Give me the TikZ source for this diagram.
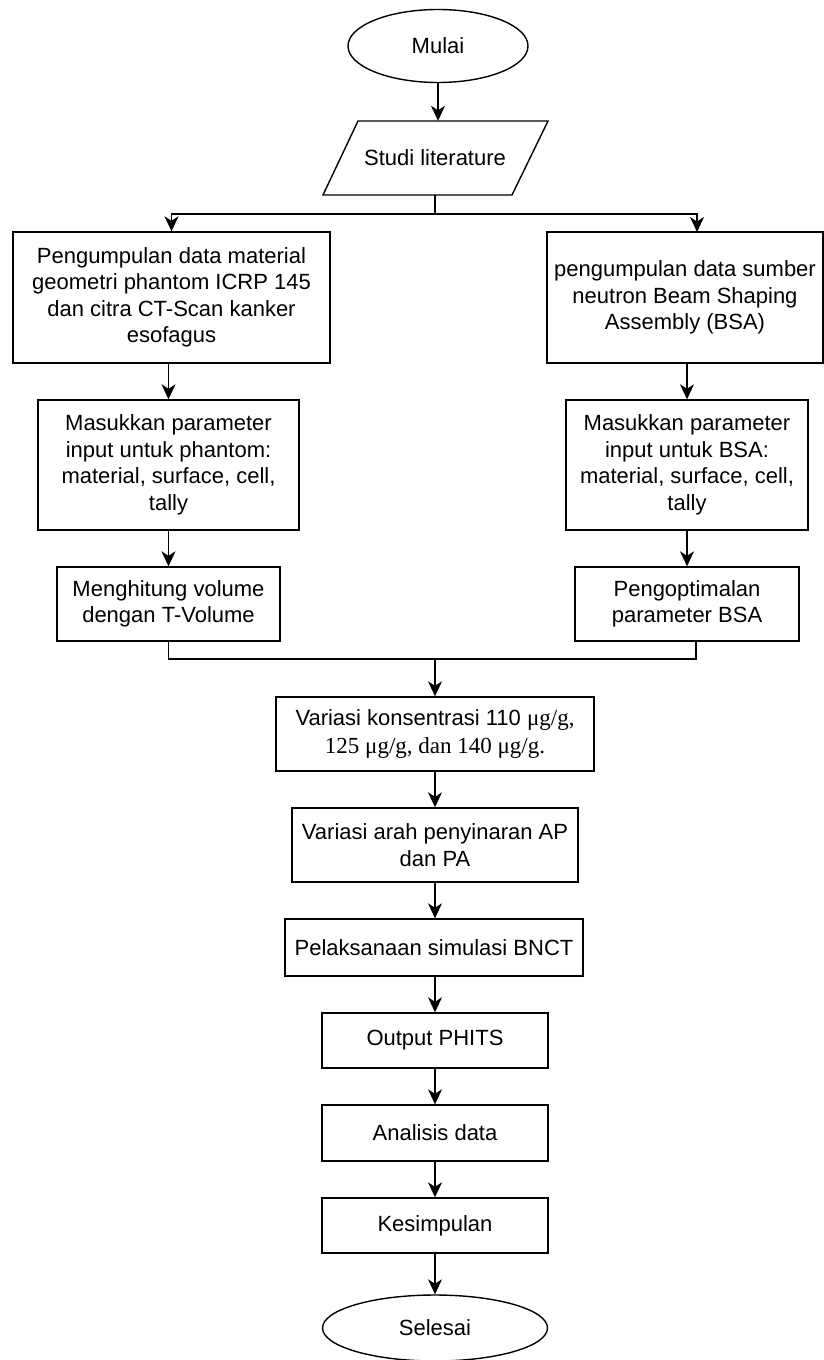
\documentclass[tikz,border=0pt]{standalone}
\usepackage{fontspec}
\setmainfont{Liberation Sans}
\newfontfamily\serifpart{Liberation Serif}
\usetikzlibrary{shapes.geometric,arrows.meta}
\begin{document}
\begin{tikzpicture}[x=1pt,y=-1pt,
  txt/.style={inner sep=0pt, align=center, font=\fontsize{22}{26.5}\selectfont},
  box/.style={txt, draw, line width=1.4pt, rectangle},
  term/.style={txt, draw, line width=1.4pt, ellipse},
  conn/.style={line width=1.4pt},
  arr/.style={line width=1.4pt, -{Stealth[length=15pt,width=14pt,inset=4.5pt]}}]
\useasboundingbox (0,0) rectangle (824,1360);
% nodes
\node[term, minimum width=180pt, minimum height=73pt] (mulai) at (438,46) {Mulai};
\node[txt, minimum width=190pt, minimum height=74pt] (lit) at (435,158) {Studi literature};
\draw[conn] (358,121) -- (548,121) -- (512,195) -- (323,195) -- cycle;
\node[box, minimum width=317pt, minimum height=131pt] (L1) at (171.5,297.5)
  {Pengumpulan data material\\geometri phantom ICRP 145\\dan citra CT-Scan kanker\\esofagus};
\node[box, minimum width=276pt, minimum height=131pt] (R1) at (685,297.5)
  {pengumpulan data sumber\\neutron Beam Shaping\\Assembly (BSA)};
\node[box, minimum width=261pt, minimum height=130pt] (L2) at (168.5,465)
  {Masukkan parameter\\input untuk phantom:\\material, surface, cell,\\tally};
\node[box, minimum width=242pt, minimum height=130pt] (R2) at (687,465)
  {Masukkan parameter\\input untuk BSA:\\material, surface, cell,\\tally};
\node[box, minimum width=223pt, minimum height=74pt] (L3) at (168.5,604)
  {Menghitung volume\\dengan T-Volume};
\node[box, minimum width=224pt, minimum height=74pt] (R3) at (687,604)
  {Pengoptimalan\\parameter BSA};
\node[box, minimum width=318pt, minimum height=74pt, font=\fontsize{22}{28}\selectfont] (K) at (435,734)
  {Variasi konsentrasi 110 {\serifpart\fontsize{23}{28}\selectfont μg/g,}\\{\serifpart\fontsize{23}{28}\selectfont 125 μg/g, dan 140 μg/g.}};
\node[box, minimum width=286pt, minimum height=74pt] (A) at (435,845)
  {Variasi arah penyinaran AP\\dan PA};
\node[box, minimum width=298pt, minimum height=57pt] (P) at (434,947.5)
  {Pelaksanaan simulasi BNCT};
\node[box, minimum width=226pt, minimum height=55pt] (O) at (435,1040.5) {Output PHITS};
\node[box, minimum width=226pt, minimum height=56pt] (An) at (435,1133) {Analisis data};
\node[box, minimum width=226pt, minimum height=55pt] (Ks) at (435,1225.5) {Kesimpulan};
\node[term, minimum width=225pt, minimum height=66pt] (S) at (435,1328) {Selesai};
% helper coordinates
\coordinate (split) at (435,214);
\coordinate (R1in) at (697,232);
\coordinate (R3out) at (696,641);
\coordinate (merge) at (435,659);
% connectors
\draw[arr] (mulai.south) -- (lit.north -| mulai.south);
\draw[conn] (lit.south) -- (split);
\draw[arr] (split) -| (L1.north);
\draw[arr] (split) -| (R1in);
\draw[arr] (L1.south -| L2.north) -- (L2.north);
\draw[arr] (L2) -- (L3);
\draw[arr] (R1.south -| R2.north) -- (R2.north);
\draw[arr] (R2) -- (R3);
\draw[conn] (L3.south) |- (merge);
\draw[conn] (R3out) |- (merge);
\draw[arr] (merge) -- (K.north);
\draw[arr] (K) -- (A);
\draw[arr] (A.south) -- (P.north -| A.south);
\draw[arr] (P.south -| O.north) -- (O.north);
\draw[arr] (O) -- (An);
\draw[arr] (An) -- (Ks);
\draw[arr] (Ks) -- (S);
\end{tikzpicture}
\end{document}
